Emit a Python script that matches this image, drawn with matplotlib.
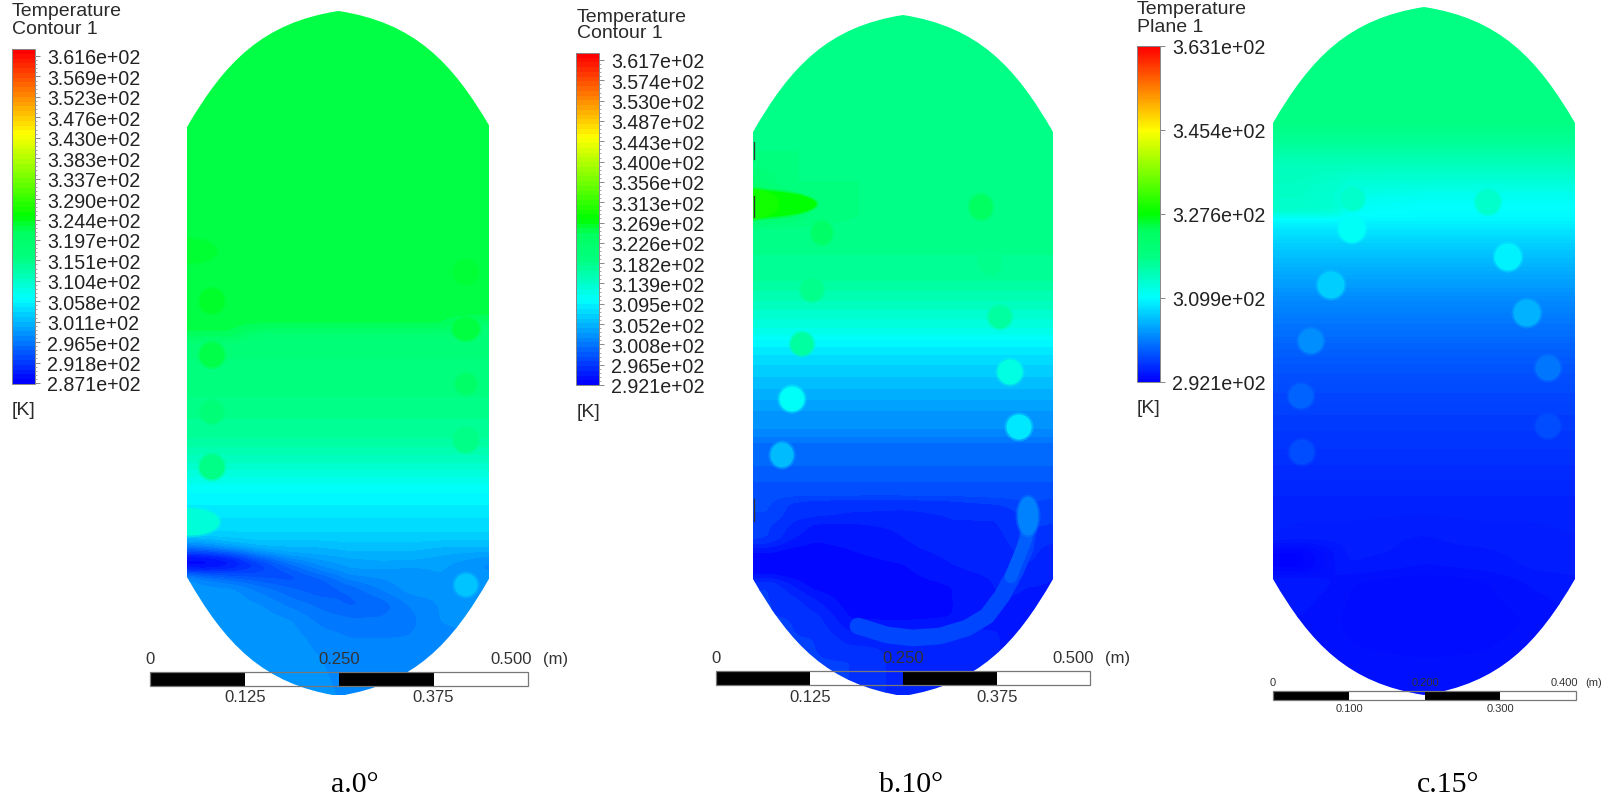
import numpy as np
import matplotlib
matplotlib.use("Agg")
import matplotlib.pyplot as plt
from matplotlib.colors import LinearSegmentedColormap, Normalize
from matplotlib.patches import Ellipse, PathPatch, Rectangle
from matplotlib.path import Path

plt.rcParams['font.family'] = ['Liberation Sans', 'DejaVu Sans']

# legend labels
labels_a = ["3.616e+02", "3.569e+02", "3.523e+02", "3.476e+02", "3.430e+02", "3.383e+02",
            "3.337e+02", "3.290e+02", "3.244e+02", "3.197e+02", "3.151e+02", "3.104e+02",
            "3.058e+02", "3.011e+02", "2.965e+02", "2.918e+02", "2.871e+02"]
labels_b = ["3.617e+02", "3.574e+02", "3.530e+02", "3.487e+02", "3.443e+02", "3.400e+02",
            "3.356e+02", "3.313e+02", "3.269e+02", "3.226e+02", "3.182e+02", "3.139e+02",
            "3.095e+02", "3.052e+02", "3.008e+02", "2.965e+02", "2.921e+02"]
labels_c = ["3.631e+02", "3.454e+02", "3.276e+02", "3.099e+02", "2.921e+02"]

# temperature fields in K on a coarse grid (pixel positions)
cols_a = [187, 205, 230, 260, 290, 320, 350, 380, 410, 440, 470, 490]
rows_a = [0, 320, 328, 336, 344, 400, 440, 470, 490, 505, 520, 535, 548, 556, 562, 570, 578, 590, 605, 620,
          640, 660, 697]
temp_a = [
    [321.4] * 12,
    [321.4] * 12,
    [321.4] * 10 + [317, 316.5],
    [321.4] * 3 + [317] * 9,
    [316.5] * 12,
    [315] * 12,
    [313] * 12,
    [309] * 12,
    [306] * 12,
    [304.8] * 12,
    [303.6] * 12,
    [302.5] * 12,
    [296, 297, 299, 300.5, 300.5, 300.5, 301, 301, 301, 300.5, 300.5, 300.5],
    [289, 289, 291, 296, 299, 299.5, 300, 300, 300, 299.5, 299, 298.5],
    [287.5, 287.5, 288.5, 292, 296, 298, 299, 299.5, 299.5, 299, 298, 297.5],
    [288, 288, 289.5, 291.5, 294, 297, 298.5, 298.5, 298, 298.5, 297.5, 297],
    [298, 296, 294, 293, 292.5, 294, 297, 297.5, 298, 298.5, 298.5, 298],
    [298, 298, 298, 296, 294.5, 293.5, 294.5, 296.5, 298, 298, 298.5, 298.5],
    [298, 298, 298, 297.5, 296, 295, 294, 294.5, 296.5, 297.5, 298, 298],
    [298, 298, 298, 298, 297.5, 296, 295.5, 295.5, 296, 297.5, 298, 298],
    [298, 298, 298, 298, 298, 297, 296.5, 296.5, 296.5, 297, 297, 298],
    [298, 298, 298, 298, 298, 297.5, 296.5, 296.5, 296.5, 296.5, 297, 298],
    [298, 298, 298, 298, 298, 298, 297, 296.5, 296.5, 296.5, 296.5, 297],
]

cols_b = [753, 770, 790, 815, 850, 903, 950, 1000, 1030, 1053]
rows_b = [0, 160, 190, 196, 205, 219, 224, 280, 310, 333, 347, 360, 377, 393, 417, 436, 442, 465, 471, 495,
          500, 515, 525, 540, 552, 565, 575, 585, 600, 620, 640, 660, 697]
temp_b = [
    [318.2] * 10,
    [318.2] * 10,
    [322, 320, 318.2] + [318.2] * 7,
    [324, 322.5, 320.5, 318.5] + [318.2] * 6,
    [324, 323, 321, 318.5] + [318.2] * 6,
    [324, 323, 321, 318.5] + [318.2] * 6,
    [318.2] * 10,
    [316.5] * 10,
    [313.5] * 10,
    [311] * 10,
    [308.5] * 10,
    [307.1] * 10,
    [305.7] * 10,
    [304.4] * 10,
    [302.3] * 10,
    [301.6] * 10,
    [299.6] * 10,
    [299.6] * 10,
    [298] * 10,
    [297.8] * 10,
    [297, 297, 296, 295.5, 295.5, 295.5, 295.8, 296.5, 297, 296.5],
    [297, 297, 295.5, 295.5, 295, 294.8, 295, 295, 296.5, 296],
    [296, 296, 295, 293.8, 293.8, 294.2, 295, 295, 296, 296],
    [296.5, 296, 294.2, 293.2, 293.5, 294, 294.5, 294.8, 295.8, 295.5],
    [293, 293, 292.5, 292.5, 293, 293.8, 294.3, 294.5, 295.5, 294],
    [292.2, 292.2, 292.2, 292.2, 292.5, 293, 294, 294.5, 295, 294],
    [292.5, 292.5, 292.2, 292.2, 292.2, 292.8, 293.8, 294.2, 294.5, 294],
    [296, 296, 294, 292.3, 292.2, 292.5, 293, 294.2, 294, 294],
    [296, 296, 295.5, 294, 292.3, 292.5, 293, 294, 294, 294],
    [296, 296, 296, 295.5, 293, 292.8, 293, 294, 294, 294],
    [296, 296, 296, 296, 294.5, 295, 295, 294, 294, 294],
    [296, 296, 296, 296, 296, 294.5, 294.5, 294, 294, 294],
    [296, 296, 296, 296, 296, 294.5, 294.5, 294, 294, 294],
]

cols_c = [1273, 1300, 1337, 1350, 1424, 1480, 1530, 1575]
rows_c = [0, 124, 140, 167, 190, 207, 215, 218, 235, 250, 267, 300, 333, 367, 417, 453, 500, 540, 552, 570,
          580, 620, 697]
temp_c = [
    [318.6] * 8,
    [318.6] * 8,
    [317.5] * 8,
    [314.4] * 8,
    [314, 314, 313, 312, 311.6, 311.6, 311.6, 311.6],
    [313.5, 313.5, 313, 310.5, 309.9, 309.9, 309.9, 309.9],
    [313.5, 313.5, 313, 310.5, 309.9, 309.9, 309.9, 309.9],
    [309.5] * 8,
    [307.7] * 8,
    [306] * 8,
    [304.6] * 8,
    [301.8] * 8,
    [299.8] * 8,
    [298] * 8,
    [296.3] * 8,
    [295.6] * 8,
    [294.5] * 8,
    [294.2, 294, 294, 294, 293.8, 294, 294, 294.2],
    [292.3, 292.3, 293.6, 294, 293.8, 293.8, 294, 294.2],
    [292.3, 292.3, 293.6, 293.8, 293.4, 293.6, 293.9, 294],
    [293.8, 293.8, 293.5, 293.2, 292.9, 293.1, 293.6, 293.8],
    [293.5, 293.5, 293.2, 293, 292.8, 292.9, 293.2, 293.5],
    [293.5] * 8,
]

# tube spots: centre x, centre y, half width, half height, temperature
spots_a = [(187, 252, 31, 13, 322.6), (212, 302, 13, 13, 322.8), (212, 356, 13, 13, 321.7),
           (212, 413, 12, 12, 316.8), (212, 468, 13, 13, 314.5), (190, 523, 30, 14, 308.5),
           (466, 273, 13, 13, 322.4), (466, 330, 14, 12, 322), (466, 385, 11, 11, 319.5),
           (466, 441, 13, 13, 314.5), (466, 586, 12, 12, 301.5)]
spots_b = [(753, 205, 64, 14, 326.8), (753, 205, 26, 15, 328), (981, 208, 12, 13, 323.4), (822, 234, 11, 12, 322.5),
           (990, 263, 12, 13, 317.5), (812, 291, 12, 12, 317.5), (1000, 318, 12, 12, 316), (802, 345, 12, 12, 316),
           (1010, 373, 13, 13, 311.5), (792, 400, 13, 13, 310), (1019, 428, 13, 13, 308),
           (782, 456, 12, 13, 305), (1028, 517, 11, 20, 301)]
spots_c = [(1353, 200, 12, 12, 313.5), (1488, 203, 13, 13, 313.5), (1352, 230, 14, 14, 310.5),
           (1508, 258, 14, 14, 309), (1331, 286, 14, 14, 306.5), (1527, 314, 14, 14, 304.5),
           (1311, 342, 13, 13, 302), (1548, 369, 13, 13, 300.3), (1301, 397, 13, 13, 299),
           (1548, 427, 13, 13, 297.5), (1302, 453, 13, 13, 297.5)]

# curved warm band at the bottom of panel b
band_x = [858, 887, 913, 940, 967, 987, 1002, 1015, 1025, 1029, 1028]
band_y = [627, 636, 639, 637, 629, 617, 597, 573, 550, 527, 510]
band_temp = 296.9
band2_x = [1011, 1019, 1026, 1029]
band2_y = [578, 558, 540, 525]
band2_temp = 298.6

# wall marks in panel b (y start, y end)
marks_b = [(143, 160), (197, 218), (500, 522)]

cmap = LinearSegmentedColormap.from_list("ansys", [
    (0.0, (0, 0, 1)), (0.25, (0, 1, 1)), (0.375, (0, 1, 0.5)), (0.45, (0, 1, 0.38)),
    (0.47, (0, 1, 0.24)), (0.5, (0, 1, 0)), (0.75, (1, 1, 0)), (1.0, (1, 0, 0))], N=512)


def smooth(arr, size, axis):
    # box blur with the edge values held, only to round off the read grid
    pad = size // 2
    kernel = np.ones(size) / size
    def run(v):
        return np.convolve(np.pad(v, pad, mode="edge"), kernel, mode="valid")
    return np.apply_along_axis(run, axis, arr)


def fine_field(cols, rows, temp):
    fx = np.arange(cols[0], cols[-1] + 1, 2)
    fy = np.arange(rows[0], rows[-1] + 1, 2)
    temp = np.array(temp)
    by_x = np.array([np.interp(fx, cols, r) for r in temp])
    field = np.array([np.interp(fy, rows, c) for c in by_x.T]).T
    for _ in range(2):
        field = smooth(smooth(field, 5, 0), 5, 1)
    return fx, fy, field


def vessel_path(xl, xr, top, sh_top, sh_bot, bot):
    mid = (xl + xr) / 2
    half = (xr - xl) / 2
    h1 = sh_top - top
    h2 = bot - sh_bot
    verts = [(xl, sh_top),
             (xl + 0.25 * half, sh_top - 0.56 * h1), (xl + 0.5 * half, sh_top - 0.9 * h1), (mid, top),
             (xr - 0.5 * half, sh_top - 0.9 * h1), (xr - 0.25 * half, sh_top - 0.56 * h1), (xr, sh_top),
             (xr, sh_bot),
             (xr - 0.25 * half, sh_bot + 0.56 * h2), (xr - 0.5 * half, sh_bot + 0.9 * h2), (mid, bot),
             (xl + 0.5 * half, sh_bot + 0.9 * h2), (xl + 0.25 * half, sh_bot + 0.56 * h2), (xl, sh_bot),
             (xl, sh_top)]
    codes = [Path.MOVETO] + [Path.CURVE4] * 6 + [Path.LINETO] + [Path.CURVE4] * 6 + [Path.CLOSEPOLY]
    return Path(verts, codes)


def draw_panel(ax, cols, rows, temp, spots, labels, tmin, tmax, box, bar, head, scale, n_bands):
    norm = Normalize(tmin, tmax)

    # scale bar, white parts go under the vessel
    sx0, sx1, sy0, sy1 = scale["bar"]
    edges = np.linspace(sx0, sx1, 5)
    for i in (1, 3):
        ax.add_patch(Rectangle((edges[i], sy0), edges[i + 1] - edges[i], sy1 - sy0, fc="white", ec="none", zorder=1))

    clip = PathPatch(vessel_path(*box), fc="none", ec="none", zorder=2)
    ax.add_patch(clip)
    levels = np.linspace(tmin, tmax, n_bands + 1)
    fx, fy, field = fine_field(cols, rows, temp)
    cs = ax.contourf(fx, fy, field, levels=levels, cmap=cmap, norm=norm, antialiased=False, zorder=2)
    cs.set_clip_path(clip)

    for sx, sy, rx, ry, t in spots:
        soft = Ellipse((sx, sy), 2 * rx + 3, 2 * ry + 3, fc=cmap(norm(t)), ec="none", alpha=0.4, zorder=3)
        core = Ellipse((sx, sy), 2 * rx - 1, 2 * ry - 1, fc=cmap(norm(t)), ec="none", zorder=3)
        ax.add_patch(soft)
        ax.add_patch(core)
        soft.set_clip_path(clip)
        core.set_clip_path(clip)

    # black parts and frame on top
    for i in (0, 2):
        ax.add_patch(Rectangle((edges[i], sy0), edges[i + 1] - edges[i], sy1 - sy0, fc="black", ec="none", zorder=5))
    ax.add_patch(Rectangle((sx0, sy0), sx1 - sx0, sy1 - sy0, fc="none", ec="#777777", lw=0.9, zorder=5))
    for txt, tx, ty, ha in scale["labels"]:
        ax.text(tx, ty, txt, fontsize=scale["size"], color="#333333", ha=ha, va="center", zorder=6)

    # colour bar
    bx0, bx1, by0, by1, tick0, tick1 = bar
    grad = np.linspace(tmax, tmin, 70 if len(labels) > 5 else 300)[:, None]
    ax.imshow(grad, extent=(bx0, bx1, by1, by0), cmap=cmap, norm=norm, aspect="auto",
              interpolation="nearest", zorder=2)
    ax.add_patch(Rectangle((bx0, by0), bx1 - bx0, by1 - by0, fc="none", ec="#888888", lw=0.7, zorder=3))
    ticks = np.linspace(tick0, tick1, len(labels))
    minor = np.linspace(tick0, tick1, (len(labels) - 1) * (5 if len(labels) > 5 else 1) + 1)
    ax.hlines(minor, bx1, bx1 + 2, color="#999999", lw=0.6, zorder=3)
    ax.hlines(ticks, bx1, bx1 + 5, color="#888888", lw=0.7, zorder=3)
    for lab, ty in zip(labels, ticks):
        ax.text(bx1 + 12, ty + 2, lab, fontsize=14.1, color="#222222", ha="left", va="center")

    for txt, tx, ty in head:
        ax.text(tx, ty + 1, txt, fontsize=14, color="#2a2a2a", ha="left", va="center")


fig = plt.figure(figsize=(16.12, 8.03), dpi=100)
ax = fig.add_axes([0, 0, 1, 1])

draw_panel(ax, cols_a, rows_a, temp_a, spots_a, labels_a, 287.1, 361.6,
           box=(187, 490, 12, 128, 578, 697),
           bar=(12, 35, 50, 385, 57, 384),
           head=[("Temperature", 12, 11), ("Contour 1", 12, 29), ("[K]", 12, 410)],
           scale={"bar": (150, 528, 673, 687), "size": 12,
                  "labels": [("0", 150, 660, "center"), ("0.250", 339, 660, "center"),
                             ("0.500", 511, 660, "center"), ("(m)", 543, 660, "left"),
                             ("0.125", 245, 698, "center"), ("0.375", 433, 698, "center")]},
           n_bands=72)

draw_panel(ax, cols_b, rows_b, temp_b, spots_b, labels_b, 292.1, 361.7,
           box=(753, 1053, 16, 133, 580, 697),
           bar=(576, 599, 54, 386, 61, 386),
           head=[("Temperature", 577, 16), ("Contour 1", 577, 33), ("[K]", 577, 412)],
           scale={"bar": (716, 1090, 672, 686), "size": 12,
                  "labels": [("0", 716, 659, "center"), ("0.250", 903, 659, "center"),
                             ("0.500", 1073, 659, "center"), ("(m)", 1105, 659, "left"),
                             ("0.125", 810, 698, "center"), ("0.375", 997, 698, "center")]},
           n_bands=72)

# panel b extras
norm_b = Normalize(292.1, 361.7)
b_clip = PathPatch(vessel_path(753, 1053, 16, 133, 580, 697), fc="none", ec="none")
ax.add_patch(b_clip)
for xs, ys, t, w in [(band_x, band_y, band_temp, 12), (band2_x, band2_y, band2_temp, 9)]:
    line, = ax.plot(xs, ys, color=cmap(norm_b(t)), lw=w, solid_capstyle="round", solid_joinstyle="round", zorder=2.5)
    line.set_clip_path(b_clip)
for y0, y1 in marks_b:
    ax.plot([753.5, 753.5], [y0, y1], color="#333333", lw=0.9, zorder=4)

draw_panel(ax, cols_c, rows_c, temp_c, spots_c, labels_c, 292.1, 363.1,
           box=(1273, 1575, 8, 124, 580, 696),
           bar=(1137, 1160, 47, 383, 47, 383),
           head=[("Temperature", 1137, 8), ("Plane 1", 1137, 26), ("[K]", 1137, 408)],
           scale={"bar": (1273, 1576, 692, 701), "size": 8,
                  "labels": [("0", 1273, 683, "center"), ("0.200", 1425, 683, "center"),
                             ("0.400", 1564, 683, "center"), ("(m)", 1594, 683, "center"),
                             ("0.100", 1349, 709, "center"), ("0.300", 1500, 709, "center")]},
           n_bands=200)

for txt, tx in [("a.0°", 355), ("b.10°", 911), ("c.15°", 1448)]:
    ax.text(tx, 792, txt, fontsize=21.5, family=["Liberation Serif"], color="black", ha="center", va="baseline")

ax.set_xlim(0, 1612)
ax.set_ylim(803, 0)
ax.axis("off")
fig.savefig("out.png", dpi=100)
